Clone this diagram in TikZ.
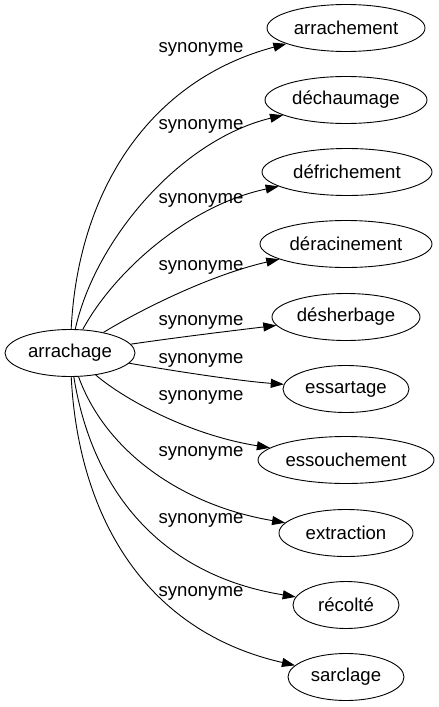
\documentclass[tikz,border=0pt]{standalone}
\usepackage{fontspec}
\setmainfont{Liberation Sans}
\usetikzlibrary{shapes.geometric,arrows.meta}
\tikzset{
  ell/.style={draw, ellipse, line width=0.9pt, inner sep=0pt, minimum height=47pt, font=\fontsize{18.6}{22}\selectfont},
  syn/.style={font=\fontsize{18.6}{22}\selectfont, inner sep=0pt},
  edge/.style={line width=0.9pt, -{Triangle[length=13pt,width=9pt]}}
}
\begin{document}
\begin{tikzpicture}[x=1pt,y=-1pt]
\useasboundingbox (0,0) rectangle (439,707);
\node[ell, minimum width=130pt] (src) at (70,353) {arrachage};
\node[ell, minimum width=158pt] (t1) at (346,28) {arrachement};
\node[ell, minimum width=162pt] (t2) at (346,100) {déchaumage};
\node[ell, minimum width=170pt] (t3) at (347,172) {défrichement};
\node[ell, minimum width=172pt] (t4) at (346,244) {déracinement};
\node[ell, minimum width=148pt] (t5) at (346,317) {désherbage};
\node[ell, minimum width=126pt] (t6) at (346,389) {essartage};
\node[ell, minimum width=176pt] (t7) at (346,460) {essouchement};
\node[ell, minimum width=134pt] (t8) at (346,533) {extraction};
\node[ell, minimum width=106pt] (t9) at (346,605) {récolté};
\node[ell, minimum width=116pt] (t10) at (346,677) {sarclage};

\draw[edge] (src) .. controls (78,190) and (150,80) .. (t1);
\draw[edge] (src) .. controls (95,240) and (180,140) .. (t2);
\draw[edge] (src) .. controls (115,270) and (190,205) .. (t3);
\draw[edge] (src) .. controls (140,310) and (210,275) .. (t4);
\draw[edge] (src) .. controls (180,337) and (230,331) .. (t5);
\draw[edge] (src) .. controls (180,372) and (240,381) .. (t6);
\draw[edge] (src) .. controls (125,400) and (190,435) .. (t7);
\draw[edge] (src) .. controls (105,450) and (180,505) .. (t8);
\draw[edge] (src) .. controls (92,490) and (160,575) .. (t9);
\draw[edge] (src) .. controls (78,510) and (140,630) .. (t10);

\node[syn] (l1) at (201,49) {synonyme};
\node[syn] (l2) at (201,126) {synonyme};
\node[syn] (l3) at (201,200) {synonyme};
\node[syn] (l4) at (201,267) {synonyme};
\node[syn] (l5) at (201,322) {synonyme};
\node[syn] (l6) at (201,360) {synonyme};
\node[syn] (l7) at (201,397) {synonyme};
\node[syn] (l8) at (201,453) {synonyme};
\node[syn] (l9) at (201,520) {synonyme};
\node[syn] (l10) at (201,593) {synonyme};
\end{tikzpicture}
\end{document}
